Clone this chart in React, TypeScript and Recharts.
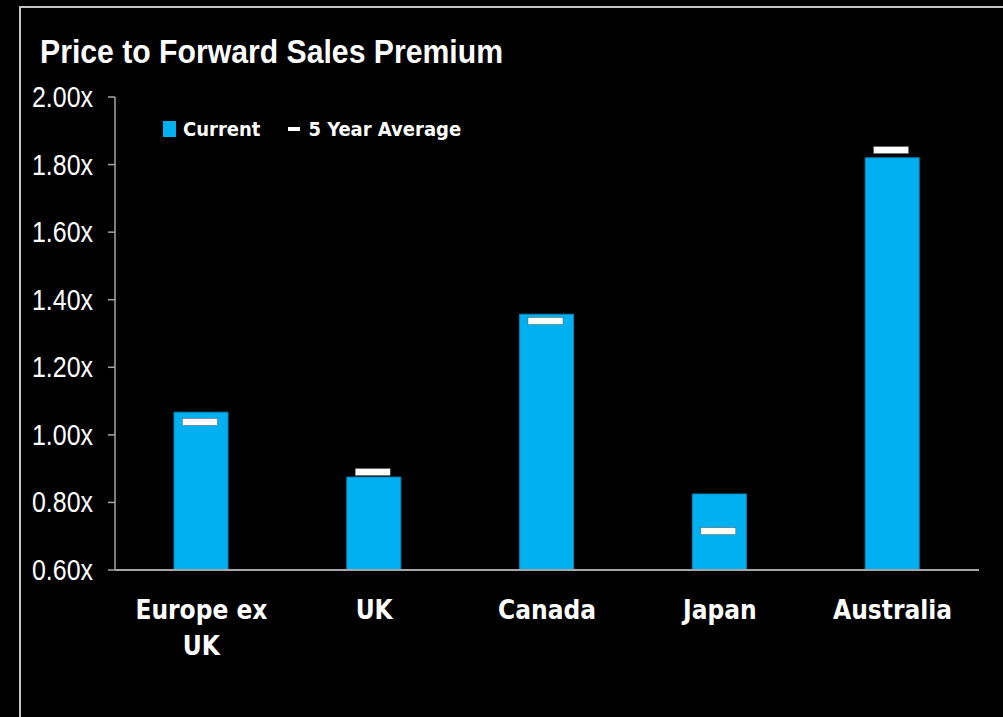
import { ComposedChart, Bar, Line, XAxis, YAxis } from "recharts";

const regions = ["Europe ex UK", "UK", "Canada", "Japan", "Australia"];
const current = [1.067, 0.875, 1.357, 0.825, 1.82];
const fiveYearAvg = [1.038, 0.89, 1.337, 0.715, 1.843];
const yTicks = [0.6, 0.8, 1.0, 1.2, 1.4, 1.6, 1.8, 2.0];

const data = regions.map((region, i) => ({
  region,
  current: current[i],
  avg: fiveYearAvg[i]
}));

const BLUE = "#00b0f0";
const AXIS = "#a6a6a6";
const LABEL_FONT = "'DejaVu Sans Condensed', 'DejaVu Sans', sans-serif";

// wrap long category names onto two lines
function splitLabel(label: string) {
  if (label.length <= 10) return [label];
  const idx = label.lastIndexOf(" ");
  return [label.slice(0, idx), label.slice(idx + 1)];
}

function CategoryTick(props: any) {
  const { x, y, payload } = props;
  const lines = splitLabel(String(payload.value));
  return (
    <g>
      {lines.map((line, i) => (
        <text
          key={i}
          x={x}
          y={y + 49 + i * 36}
          textAnchor="middle"
          fill="#fff"
          fontFamily={LABEL_FONT}
          fontWeight="bold"
          fontSize={26}
        >
          {line}
        </text>
      ))}
    </g>
  );
}

// thin, narrow value labels on the left axis
function ValueTick(props: any) {
  const { x, y, payload } = props;
  const label = `${Number(payload.value).toFixed(2)}x`;
  return (
    <text
      x={x}
      y={y + 10}
      textAnchor="end"
      fill="#fff"
      fontFamily="'Liberation Sans', Arial, sans-serif"
      fontSize={29}
      textLength={61}
      lengthAdjust="spacingAndGlyphs"
    >
      {label}
    </text>
  );
}

function AvgMarker(props: any) {
  const { cx, cy } = props;
  if (cx == null || cy == null) return null;
  return (
    <rect
      x={cx - 19}
      y={cy - 3.5}
      width={35}
      height={7}
      fill="#fff"
      stroke="#555"
      strokeWidth={0.5}
    />
  );
}

function LegendBox() {
  return (
    <div
      style={{
        position: "absolute",
        left: 163,
        top: 117,
        display: "flex",
        alignItems: "center",
        fontFamily: LABEL_FONT,
        fontWeight: "bold",
        fontSize: 20,
        color: "#fff"
      }}
    >
      <span
        style={{ display: "inline-block", width: 13, height: 16, background: BLUE, marginRight: 7 }}
      />
      <span>Current</span>
      <span
        style={{
          display: "inline-block",
          width: 12,
          height: 4,
          background: "#fff",
          marginLeft: 28,
          marginRight: 8
        }}
      />
      <span>5 Year Average</span>
    </div>
  );
}

export default function App() {
  return (
    <div
      style={{
        position: "absolute",
        left: 0,
        top: 0,
        width: 1003,
        height: 717,
        background: "#000",
        overflow: "hidden"
      }}
    >
      <div
        style={{
          position: "absolute",
          left: 19,
          top: 6,
          right: -10,
          bottom: -10,
          borderLeft: "2px solid #c4c4c4",
          borderTop: "2px solid #c4c4c4"
        }}
      />
      <svg
        style={{ position: "absolute", left: 0, top: 0 }}
        width={1003}
        height={80}
      >
        <text
          x={40}
          y={63}
          fill="#fff"
          fontFamily="'Liberation Sans', Arial, sans-serif"
          fontWeight="bold"
          fontSize={34}
          textLength={463}
          lengthAdjust="spacingAndGlyphs"
        >
          Price to Forward Sales Premium
        </text>
      </svg>
      <ComposedChart
        width={1003}
        height={717}
        data={data}
        margin={{ top: 97, right: 24, bottom: 0, left: 0 }}
        barSize={54}
        style={{ position: "absolute", left: 0, top: 0 }}
      >
        <XAxis
          dataKey="region"
          height={147}
          axisLine={{ stroke: AXIS, strokeWidth: 2 }}
          tickLine={false}
          tickSize={0}
          tickMargin={0}
          tick={<CategoryTick />}
          interval={0}
        />
        <YAxis
          width={115}
          domain={[0.6, 2.0]}
          ticks={yTicks}
          interval={0}
          axisLine={{ stroke: AXIS, strokeWidth: 1.5 }}
          tickLine={{ stroke: AXIS, strokeWidth: 1.5 }}
          tickSize={7}
          tickMargin={15}
          tick={<ValueTick />}
        />
        <Bar
          dataKey="current"
          name="Current"
          fill={BLUE}
          stroke="#0a86b8"
          strokeWidth={1}
          isAnimationActive={false}
        />
        <Line
          dataKey="avg"
          name="5 Year Average"
          stroke="none"
          dot={<AvgMarker />}
          activeDot={false}
          isAnimationActive={false}
        />
      </ComposedChart>
      <LegendBox />
    </div>
  );
}
